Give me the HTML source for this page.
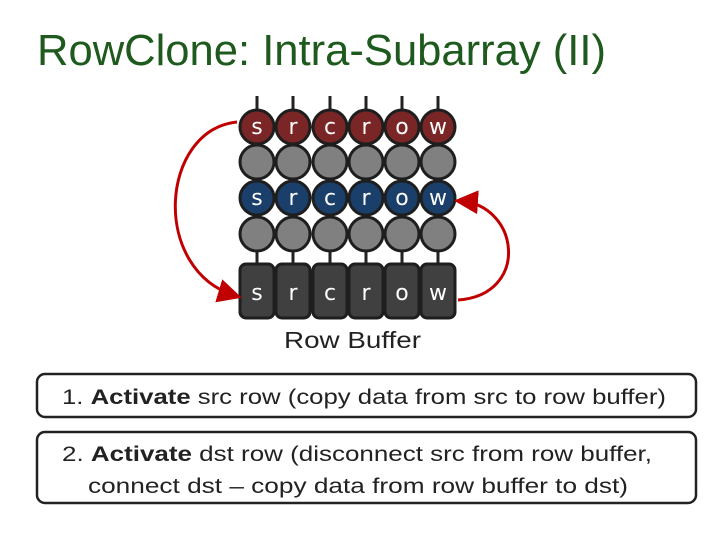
<!DOCTYPE html>
<html><head><meta charset="utf-8"><style>
html,body{margin:0;padding:0;background:#fff;}
svg{display:block;}
</style></head><body>
<svg width="720" height="540" viewBox="0 0 720 540" xmlns="http://www.w3.org/2000/svg" font-family="Liberation Sans, sans-serif">
<defs>
<marker id="ah" markerWidth="8" markerHeight="8" refX="6" refY="4" orient="auto" markerUnits="strokeWidth">
<path d="M0,0 L8,4 L0,8 z" fill="#c00000"/>
</marker>
</defs>
<text x="37" y="65" font-size="44" fill="#1e5a1e" textLength="569" lengthAdjust="spacingAndGlyphs">RowClone: Intra-Subarray (II)</text>

<g stroke="#222" stroke-width="3">
<line x1="257" y1="96" x2="257" y2="275"/>
<line x1="293" y1="96" x2="293" y2="275"/>
<line x1="330" y1="96" x2="330" y2="275"/>
<line x1="366" y1="96" x2="366" y2="275"/>
<line x1="402" y1="96" x2="402" y2="275"/>
<line x1="438" y1="96" x2="438" y2="275"/>
</g>
<g stroke="#1e1e1e" stroke-width="3">
<g fill="#7a2626">
<circle cx="257" cy="127" r="17"/><circle cx="293" cy="127" r="17"/><circle cx="330" cy="127" r="17"/><circle cx="366" cy="127" r="17"/><circle cx="402" cy="127" r="17"/><circle cx="438" cy="127" r="17"/>
</g>
<g fill="#808080">
<circle cx="257" cy="162" r="17"/><circle cx="293" cy="162" r="17"/><circle cx="330" cy="162" r="17"/><circle cx="366" cy="162" r="17"/><circle cx="402" cy="162" r="17"/><circle cx="438" cy="162" r="17"/>
<circle cx="257" cy="234" r="17"/><circle cx="293" cy="234" r="17"/><circle cx="330" cy="234" r="17"/><circle cx="366" cy="234" r="17"/><circle cx="402" cy="234" r="17"/><circle cx="438" cy="234" r="17"/>
</g>
<g fill="#1b3f6b">
<circle cx="257" cy="198" r="17"/><circle cx="293" cy="198" r="17"/><circle cx="330" cy="198" r="17"/><circle cx="366" cy="198" r="17"/><circle cx="402" cy="198" r="17"/><circle cx="438" cy="198" r="17"/>
</g>
<g fill="#404040">
<rect x="240" y="264" width="34" height="54" rx="6"/><rect x="276" y="264" width="34" height="54" rx="6"/><rect x="313" y="264" width="34" height="54" rx="6"/><rect x="349" y="264" width="34" height="54" rx="6"/><rect x="385" y="264" width="34" height="54" rx="6"/><rect x="421" y="264" width="34" height="54" rx="6"/>
</g>
</g>
<g fill="#fff" font-size="22" text-anchor="middle" font-family="DejaVu Sans, sans-serif">
<text x="257" y="134">s</text><text x="293" y="134">r</text><text x="330" y="134">c</text><text x="366" y="134">r</text><text x="402" y="134">o</text><text x="438" y="134">w</text>
<text x="257" y="205">s</text><text x="293" y="205">r</text><text x="330" y="205">c</text><text x="366" y="205">r</text><text x="402" y="205">o</text><text x="438" y="205">w</text>
<text x="257" y="300">s</text><text x="293" y="300">r</text><text x="330" y="300">c</text><text x="366" y="300">r</text><text x="402" y="300">o</text><text x="438" y="300">w</text>
</g>
<path d="M237,122 C160,130 150,270 236,296" fill="none" stroke="#c00000" stroke-width="3" marker-end="url(#ah)"/>
<path d="M458,300 C530,295 520,205 460,201" fill="none" stroke="#c00000" stroke-width="3" marker-end="url(#ah)"/>

<text x="284" y="348" font-size="23" fill="#222" textLength="137" lengthAdjust="spacingAndGlyphs">Row Buffer</text>

<rect x="37" y="374" width="659" height="43" rx="8" fill="#fff" stroke="#222" stroke-width="2.5"/>
<rect x="37" y="432" width="659" height="71" rx="8" fill="#fff" stroke="#222" stroke-width="2.5"/>
<g font-size="21" fill="#222">
<text x="62" y="404" textLength="604" lengthAdjust="spacingAndGlyphs">1. <tspan font-weight="bold">Activate</tspan> src row (copy data from src to row buffer)</text>
<text x="62" y="461" textLength="590" lengthAdjust="spacingAndGlyphs">2. <tspan font-weight="bold">Activate</tspan> dst row (disconnect src from row buffer,</text>
<text x="88" y="493" textLength="540" lengthAdjust="spacingAndGlyphs">connect dst – copy data from row buffer to dst)</text>
</g>
</svg>
</body></html>
